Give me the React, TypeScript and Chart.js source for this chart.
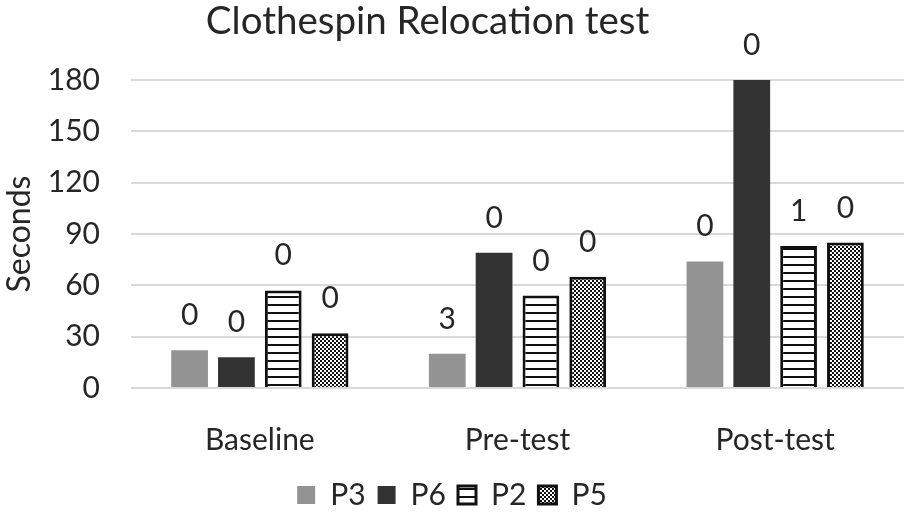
import React, { useEffect, useRef } from 'react';
import { Chart, registerables } from 'chart.js';

Chart.register(...registerables);

const FONT = 'Lato, "Open Sans", sans-serif';
const TEXT = '#262626';

const titleText = 'Clothespin Relocation test';
const categories = ['Baseline', 'Pre-test', 'Post-test'];
const seriesNames = ['P3', 'P6', 'P2', 'P5'];
const valuesP3 = [22, 20, 74];
const valuesP6 = [18, 79, 180];
const valuesP2 = [57, 54, 83];
const valuesP5 = [32, 65, 85];
const labelsP3 = ['0', '3', '0'];
const labelsP6 = ['0', '0', '0'];
const labelsP2 = ['0', '0', '1'];
const labelsP5 = ['0', '0', '0'];
const yMin = 0;
const yMax = 180;
const yStep = 30;

function stripePattern(): CanvasPattern | string {
  const c = document.createElement('canvas');
  c.width = 8;
  c.height = 8;
  const g = c.getContext('2d');
  if (!g) return '#ffffff';
  g.fillStyle = '#ffffff';
  g.fillRect(0, 0, 8, 8);
  g.fillStyle = '#111111';
  g.fillRect(0, 0, 8, 2);
  return g.createPattern(c, 'repeat') || '#ffffff';
}

function checkerPattern(): CanvasPattern | string {
  const c = document.createElement('canvas');
  c.width = 4;
  c.height = 4;
  const g = c.getContext('2d');
  if (!g) return '#777777';
  g.fillStyle = '#ffffff';
  g.fillRect(0, 0, 4, 4);
  g.fillStyle = '#111111';
  g.fillRect(0, 0, 2, 2);
  g.fillRect(2, 2, 2, 2);
  return g.createPattern(c, 'repeat') || '#777777';
}

const titlePlugin = {
  id: 'offsetTitle',
  afterDraw(chart: any) {
    const ctx = chart.ctx;
    ctx.save();
    ctx.font = `38.5px ${FONT}`;
    ctx.fillStyle = TEXT;
    ctx.textAlign = 'center';
    ctx.textBaseline = 'middle';
    ctx.fillText(titleText, chart.width * 0.473, 22);
    ctx.restore();
  },
};

const barLabelsPlugin = {
  id: 'barLabels',
  afterDatasetsDraw(chart: any) {
    const ctx = chart.ctx;
    ctx.save();
    ctx.font = `30px ${FONT}`;
    ctx.fillStyle = TEXT;
    ctx.textAlign = 'center';
    ctx.textBaseline = 'alphabetic';
    chart.data.datasets.forEach((ds: any, i: number) => {
      const meta = chart.getDatasetMeta(i);
      meta.data.forEach((bar: any, j: number) => {
        const txt = ds.valueLabels ? ds.valueLabels[j] : '';
        ctx.fillText(txt, bar.x, bar.y - 25);
      });
    });
    ctx.restore();
  },
};

export default function App() {
  const ref = useRef<HTMLCanvasElement | null>(null);

  useEffect(() => {
    document.body.style.margin = '0';
    const canvas = ref.current;
    if (!canvas) return;
    const stripes = stripePattern();
    const checks = checkerPattern();
    const common = { barPercentage: 0.785, categoryPercentage: 0.727 };
    const chart = new Chart(canvas, {
      type: 'bar',
      data: {
        labels: categories,
        datasets: [
          { label: seriesNames[0], data: valuesP3, backgroundColor: '#939393', borderWidth: 0, valueLabels: labelsP3, ...common } as any,
          { label: seriesNames[1], data: valuesP6, backgroundColor: '#333333', borderWidth: 0, valueLabels: labelsP6, ...common } as any,
          { label: seriesNames[2], data: valuesP2, backgroundColor: stripes, borderColor: '#111111', borderWidth: 3, valueLabels: labelsP2, ...common } as any,
          { label: seriesNames[3], data: valuesP5, backgroundColor: checks, borderColor: '#111111', borderWidth: 3, valueLabels: labelsP5, ...common } as any,
        ],
      },
      options: {
        responsive: false,
        animation: false,
        layout: { padding: { top: 80, left: 0, right: 0, bottom: 0 } },
        plugins: {
          title: { display: false },
          legend: {
            position: 'bottom',
            labels: {
              boxWidth: 18,
              boxHeight: 18,
              padding: 12,
              color: TEXT,
              font: { family: FONT, size: 30 },
            },
          },
          tooltip: { enabled: false },
        },
        scales: {
          x: {
            grid: { display: false },
            border: { display: false },
            ticks: { color: TEXT, font: { family: FONT, size: 30 }, padding: 26 },
            afterFit: (s: any) => { s.height = 80; },
          },
          y: {
            min: yMin,
            max: yMax,
            ticks: { stepSize: yStep, color: TEXT, font: { family: FONT, size: 30 }, padding: 31 },
            grid: { color: '#d9d9d9', lineWidth: 2, drawTicks: false },
            border: { display: false },
            title: {
              display: true,
              text: 'Seconds',
              color: TEXT,
              font: { family: FONT, size: 32 },
              padding: 0,
            },
            afterFit: (s: any) => { s.width = 131; },
          },
        },
      } as any,
      plugins: [barLabelsPlugin, titlePlugin],
    });
    return () => chart.destroy();
  }, []);

  return (
    <div style={{ position: 'absolute', left: 0, top: 0, width: 904, height: 520 }}>
      <canvas ref={ref} width={904} height={520} style={{ display: 'block' }} />
    </div>
  );
}
